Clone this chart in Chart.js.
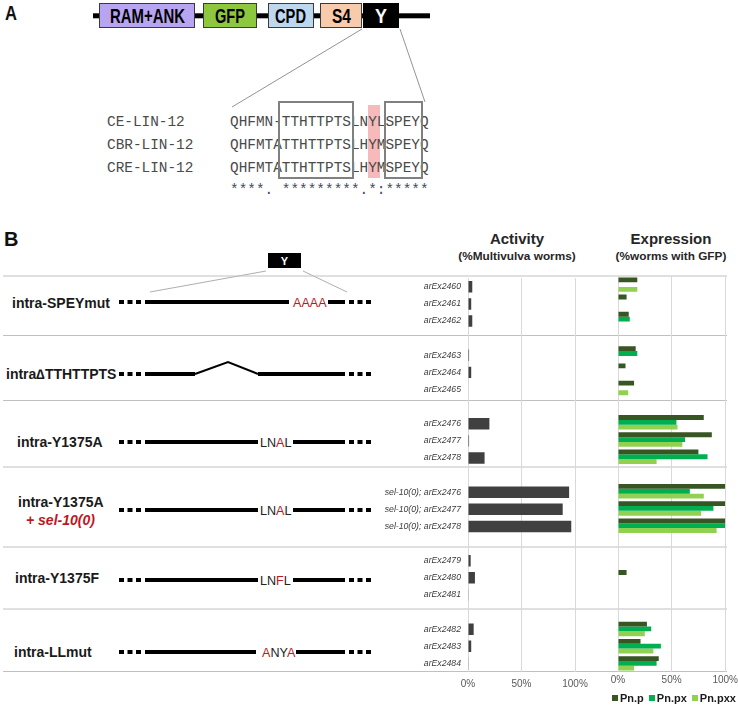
<!DOCTYPE html>
<html><head><meta charset="utf-8">
<script src="https://cdn.jsdelivr.net/npm/chart.js@4.4.1/dist/chart.umd.min.js"></script>
<style>
html,body{margin:0;padding:0;background:#fff;}
#wrap{position:relative;width:738px;height:705px;overflow:hidden;font-family:Arial,"Liberation Sans",sans-serif;}
#fig{position:absolute;left:0;top:0;}
canvas{position:absolute;}
#act{left:380px;top:266px;}
#exp{left:596px;top:266px;}
#legend{position:absolute;left:612px;top:692px;display:flex;align-items:center;font:bold 11px Arial,"Liberation Sans",sans-serif;color:#1a1a1a;white-space:nowrap;}
#legend .it{display:flex;align-items:center;margin-right:5px;}
#legend .sw{width:6px;height:6px;margin-right:2px;}
</style></head>
<body><div id="wrap">
<svg id="fig" width="738" height="705" xmlns="http://www.w3.org/2000/svg" font-family="Arial, 'Liberation Sans', sans-serif">
  <!-- Panel A -->
  <text x="5" y="20" font-size="21" font-weight="bold" fill="#111" textLength="12" lengthAdjust="spacingAndGlyphs">A</text>
  <rect x="93" y="13.3" width="337" height="5" fill="#000"/>
  <rect x="99.5" y="3.5" width="95" height="24" fill="#b7a5f2" stroke="#3a3a3a" stroke-width="1"/>
  <rect x="203.5" y="3.5" width="53" height="24" fill="#8dc63f" stroke="#3a3a3a" stroke-width="1"/>
  <rect x="268.5" y="3.5" width="45" height="24" fill="#bdd7ee" stroke="#3a3a3a" stroke-width="1"/>
  <rect x="320.5" y="3.5" width="41" height="24" fill="#f8cbad" stroke="#3a3a3a" stroke-width="1"/>
  <rect x="363" y="3" width="36" height="25" fill="#000"/>
  <g font-weight="bold" font-size="20">
    <text x="110" y="23" fill="#000" textLength="75" lengthAdjust="spacingAndGlyphs">RAM+ANK</text>
    <text x="215" y="23" fill="#000" textLength="30" lengthAdjust="spacingAndGlyphs">GFP</text>
    <text x="275" y="23" fill="#000" textLength="31" lengthAdjust="spacingAndGlyphs">CPD</text>
    <text x="332" y="23" fill="#000" textLength="19" lengthAdjust="spacingAndGlyphs">S4</text>
    <text x="375" y="23" fill="#fff" textLength="12" lengthAdjust="spacingAndGlyphs">Y</text>
  </g>
  <line x1="362" y1="29" x2="232" y2="107" stroke="#777" stroke-width="0.8"/>
  <line x1="400" y1="29" x2="425" y2="102" stroke="#777" stroke-width="0.8"/>
  <rect x="368" y="105" width="12" height="73" fill="#f3a3a3" opacity="0.75"/>
  <g font-family="'Liberation Mono', 'DejaVu Sans Mono', monospace" font-size="14.4" fill="#4a4a4a">
    <text x="107" y="126">CE-LIN-12</text>
    <text x="107" y="149">CBR-LIN-12</text>
    <text x="107" y="172">CRE-LIN-12</text>
    <text x="230" y="126">QHFMN-TTHTTPTSLNYLSPEYQ</text>
    <text x="230" y="149">QHFMTATTHTTPTSLHYMSPEYQ</text>
    <text x="230" y="172">QHFMTATTHTTPTSLHYMSPEYQ</text>
    <text x="230" y="194" fill="#3c4a66">****.&#160;*********.*:*****</text>
  </g>
  <rect x="279" y="102" width="74" height="76" fill="none" stroke="#808080" stroke-width="2"/>
  <rect x="385" y="102" width="37" height="76" fill="none" stroke="#808080" stroke-width="2"/>

  <!-- Panel B -->
  <text x="4" y="246" font-size="20" font-weight="bold" fill="#111">B</text>
  <g font-weight="bold" fill="#262626" text-anchor="middle">
    <text x="517" y="244" font-size="15">Activity</text>
    <text x="517" y="260" font-size="11.8">(%Multivulva worms)</text>
    <text x="671" y="244" font-size="15">Expression</text>
    <text x="671" y="260" font-size="11.8">(%worms with GFP)</text>
  </g>
  <rect x="268" y="253" width="33" height="15" fill="#000"/>
  <text x="284.5" y="265" font-size="11" font-weight="bold" fill="#fff" text-anchor="middle">Y</text>
  <line x1="266" y1="271" x2="150" y2="292" stroke="#999" stroke-width="0.8"/>
  <line x1="303" y1="271" x2="347" y2="292" stroke="#999" stroke-width="0.8"/>

  <!-- separators -->
  <g stroke="#c0c0c0" stroke-width="1">
    <line x1="3" y1="276" x2="727" y2="276"/>
    <line x1="3" y1="335.5" x2="727" y2="335.5"/>
    <line x1="3" y1="400.5" x2="727" y2="400.5"/>
    <line x1="3" y1="467" x2="727" y2="467"/>
    <line x1="3" y1="547" x2="727" y2="547"/>
    <line x1="3" y1="609" x2="727" y2="609"/>
    <line x1="3" y1="671.5" x2="727" y2="671.5"/>
  </g>

  <g font-weight="bold" font-size="14" fill="#1a1a1a">
    <text x="12" y="308">intra-SPEYmut</text>
    <text x="6" y="379">intra&#8710;TTHTTPTS</text>
    <text x="17" y="447">intra-Y1375A</text>
    <text x="18" y="507">intra-Y1375A</text>
    <text x="26" y="525" fill="#c0161e" font-style="italic">+ sel-10(0)</text>
    <text x="15" y="583">intra-Y1375F</text>
    <text x="14" y="657">intra-LLmut</text>
  </g>

  <!-- schematic lines -->
  <g fill="#000">
    <rect x="119" y="300" width="5" height="4"/><rect x="127.5" y="300" width="5" height="4"/><rect x="136" y="300" width="5" height="4"/>
    <rect x="349" y="300" width="5" height="4"/><rect x="357.5" y="300" width="5" height="4"/><rect x="366" y="300" width="5" height="4"/>
    <rect x="145" y="300" width="144" height="4"/><rect x="328" y="300" width="17" height="4"/>

    <rect x="119" y="372" width="5" height="4"/><rect x="127.5" y="372" width="5" height="4"/><rect x="136" y="372" width="5" height="4"/>
    <rect x="349" y="372" width="5" height="4"/><rect x="357.5" y="372" width="5" height="4"/><rect x="366" y="372" width="5" height="4"/>
    <rect x="145" y="372" width="50" height="4"/><rect x="258" y="372" width="87" height="4"/>

    <rect x="119" y="440" width="5" height="4"/><rect x="127.5" y="440" width="5" height="4"/><rect x="136" y="440" width="5" height="4"/>
    <rect x="349" y="440" width="5" height="4"/><rect x="357.5" y="440" width="5" height="4"/><rect x="366" y="440" width="5" height="4"/>
    <rect x="145" y="440" width="113" height="4"/><rect x="293" y="440" width="52" height="4"/>

    <rect x="119" y="508" width="5" height="4"/><rect x="127.5" y="508" width="5" height="4"/><rect x="136" y="508" width="5" height="4"/>
    <rect x="349" y="508" width="5" height="4"/><rect x="357.5" y="508" width="5" height="4"/><rect x="366" y="508" width="5" height="4"/>
    <rect x="145" y="508" width="113" height="4"/><rect x="293" y="508" width="52" height="4"/>

    <rect x="119" y="578" width="5" height="4"/><rect x="127.5" y="578" width="5" height="4"/><rect x="136" y="578" width="5" height="4"/>
    <rect x="349" y="578" width="5" height="4"/><rect x="357.5" y="578" width="5" height="4"/><rect x="366" y="578" width="5" height="4"/>
    <rect x="145" y="578" width="113" height="4"/><rect x="293" y="578" width="52" height="4"/>

    <rect x="119" y="650" width="5" height="4"/><rect x="127.5" y="650" width="5" height="4"/><rect x="136" y="650" width="5" height="4"/>
    <rect x="349" y="650" width="5" height="4"/><rect x="357.5" y="650" width="5" height="4"/><rect x="366" y="650" width="5" height="4"/>
    <rect x="145" y="650" width="111" height="4"/><rect x="296" y="650" width="49" height="4"/>
  </g>
  <polyline points="195,374 228,362 258,374" fill="none" stroke="#000" stroke-width="2"/>
  <g font-size="12.6" fill="#222">
    <text x="293" y="307" fill="#c0161e">AAAA</text>
    <text x="260" y="446.5">LN<tspan fill="#c0161e">A</tspan>L</text>
    <text x="260" y="514.5">LN<tspan fill="#c0161e">A</tspan>L</text>
    <text x="260" y="584.5">LN<tspan fill="#c0161e">F</tspan>L</text>
    <text x="262" y="656.5"><tspan fill="#c0161e">A</tspan>NY<tspan fill="#c0161e">A</tspan></text>
  </g>
</svg>
<canvas id="act" width="215" height="430"></canvas>
<canvas id="exp" width="144" height="430"></canvas>
<div id="legend"></div>
</div>
<script>
// ---- data ----
const rowLabels = [
  'arEx2460','arEx2461','arEx2462','',
  'arEx2463','arEx2464','arEx2465','',
  'arEx2476','arEx2477','arEx2478','',
  'sel-10(0); arEx2476','sel-10(0); arEx2477','sel-10(0); arEx2478','',
  'arEx2479','arEx2480','arEx2481','',
  'arEx2482','arEx2483','arEx2484'
];
const activity = [4,3,4,null, 1,3,0,null, 20,1,15.5,null, 94.5,88.5,96.5,null, 2.5,6.5,0.6,null, 5.3,3,0.6];
const pnP   = [18,8,10,null, 16.5,7,15,null, 80,87.5,75,null, 100,100,100,null, 0,8,0,null, 27,21,38];
const pnPx  = [0,0,11,null, 18,0,0,null, 54.5,62.5,83.5,null, 67,89,100,null, 0,0,0,null, 31,40,36];
const pnPxx = [18,0,0,null, 0,0,9.5,null, 55.5,60,36,null, 80,77.5,92,null, 0,0,0,null, 25,33,15];
const seriesNames = ['Pn.p','Pn.px','Pn.pxx'];
const seriesColors = ['#375623','#00b050','#92d050'];
const xTicks = [0,50,100];

const FONT = 'Arial, "Liberation Sans", sans-serif';
function xScale(pad){
  return {
    min:0, max:100, afterBuildTicks:s=>{s.ticks = xTicks.map(v=>({value:v}));},
    ticks:{callback:v=>v+'%', color:'#595959', font:{size:10,family:FONT}, padding:pad, maxRotation:0, autoSkip:false},
    grid:{color:'#d9d9d9', drawTicks:false, lineWidth:1},
    border:{display:false},
    afterFit:s=>{s.height=24;}
  };
}

new Chart(document.getElementById('act'), {
  type:'bar',
  data:{labels:rowLabels, datasets:[{label:'Activity', data:activity, backgroundColor:'#404040', borderWidth:0, barPercentage:1, categoryPercentage:0.67}]},
  options:{
    indexAxis:'y', responsive:false, animation:false, devicePixelRatio:1,
    layout:{padding:{top:10,right:20,left:0,bottom:0}},
    plugins:{legend:{display:false}, tooltip:{enabled:false}},
    scales:{
      x:xScale(6),
      y:{ticks:{color:'#3a3a3a', font:{size:8.7, style:'italic', family:FONT}, padding:7, autoSkip:false},
         grid:{display:false, drawTicks:false}, border:{display:false}, afterFit:s=>{s.width=88;}}
    }
  }
});

new Chart(document.getElementById('exp'), {
  type:'bar',
  data:{labels:rowLabels, datasets:seriesNames.map((n,i)=>({label:n, data:[pnP,pnPx,pnPxx][i], backgroundColor:seriesColors[i], borderWidth:0, barPercentage:1, categoryPercentage:0.84}))},
  options:{
    indexAxis:'y', responsive:false, animation:false, devicePixelRatio:1,
    layout:{padding:{top:10,right:14,left:0,bottom:0}},
    plugins:{legend:{display:false}, tooltip:{enabled:false}},
    scales:{
      x:xScale(2),
      y:{ticks:{display:false}, grid:{display:false, drawTicks:false}, border:{display:false}, afterFit:s=>{s.width=22;}}
    }
  }
});

const lg = document.getElementById('legend');
seriesNames.forEach((n,i)=>{
  const it=document.createElement('span'); it.className='it';
  const sw=document.createElement('span'); sw.className='sw'; sw.style.background=seriesColors[i];
  it.appendChild(sw); it.appendChild(document.createTextNode(n)); lg.appendChild(it);
});
</script>
</body></html>
